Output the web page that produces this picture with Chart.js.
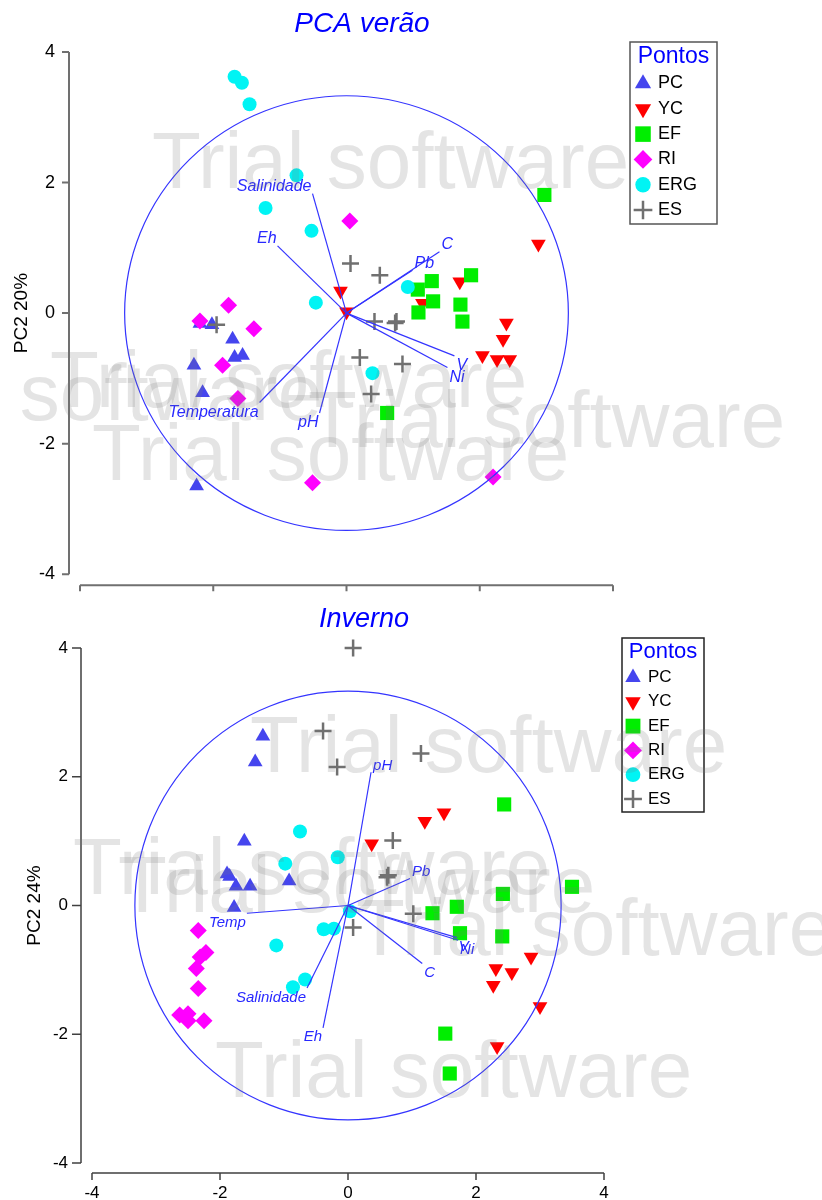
<!DOCTYPE html>
<html>
<head>
<meta charset="utf-8">
<script src="https://cdn.jsdelivr.net/npm/chart.js@4.4.0/dist/chart.umd.min.js"></script>
<style>
html, body { margin: 0; padding: 0; background: #ffffff; }
#wrap { position: relative; width: 822px; height: 1200px; overflow: hidden; background: #ffffff; }
#c1 { position: absolute; left: 0; top: 0; }
#c2 { position: absolute; left: 0; top: 600px; }
</style>
</head>
<body>
<div id="wrap">
  <canvas id="c1" width="822" height="610"></canvas>
  <canvas id="c2" width="822" height="600"></canvas>
</div>
<script>
// ---------------- DATA ----------------
const GROUPS = ['PC', 'YC', 'EF', 'RI', 'ERG', 'ES'];
const AXIS_TICKS = [-4, -2, 0, 2, 4];
const CIRCLE_RADIUS = 3.33;

const VERAO_TITLE = 'PCA verão';
const VERAO_YLABEL = 'PC2 20%';
const VERAO_PC  = [[-2.20,-0.16],[-2.02,-0.18],[-1.71,-0.40],[-1.68,-0.68],[-1.56,-0.65],[-2.29,-0.80],[-2.16,-1.22],[-2.25,-2.65]];
const VERAO_YC  = [[2.88,1.06],[1.70,0.48],[-0.09,0.34],[0.00,0.02],[1.14,0.15],[2.40,-0.15],[2.35,-0.40],[2.04,-0.65],[2.26,-0.71],[2.45,-0.71]];
const VERAO_EF  = [[2.97,1.81],[1.87,0.58],[1.28,0.49],[1.07,0.36],[1.71,0.13],[1.74,-0.13],[1.30,0.18],[1.08,0.01],[0.61,-1.53]];
const VERAO_RI  = [[0.05,1.41],[-1.77,0.12],[-2.20,-0.12],[-1.39,-0.24],[-1.86,-0.80],[-1.63,-1.31],[-0.51,-2.60],[2.20,-2.51]];
const VERAO_ERG = [[-1.68,3.62],[-1.57,3.53],[-1.455,3.20],[-0.75,2.11],[-1.215,1.61],[-0.525,1.26],[-0.46,0.16],[0.92,0.40],[0.39,-0.92]];
const VERAO_ES  = [[0.06,0.76],[0.50,0.58],[-1.95,-0.18],[0.42,-0.13],[0.75,-0.13],[0.73,-0.15],[0.20,-0.68],[0.84,-0.78],[0.37,-1.24]];
const VERAO_VARS    = ['Salinidade', 'Eh', 'C', 'Pb', 'V', 'Ni', 'Temperatura', 'pH'];
const VERAO_VAR_PC1 = [-0.51, -1.035, 1.395, 0.99, 1.62, 1.515, -1.305, -0.405];
const VERAO_VAR_PC2 = [1.83, 1.03, 0.94, 0.655, -0.655, -0.833, -1.37, -1.53];

const INVERNO_TITLE = 'Inverno';
const INVERNO_YLABEL = 'PC2 24%';
const INVERNO_PC  = [[-1.33,2.63],[-1.45,2.23],[-1.62,1.00],[-1.89,0.49],[-1.85,0.45],[-1.75,0.30],[-1.53,0.30],[-0.92,0.38],[-1.78,-0.03]];
const INVERNO_YC  = [[0.37,0.96],[1.20,1.31],[1.50,1.44],[2.86,-0.80],[2.31,-0.98],[2.56,-1.04],[2.27,-1.24],[3.00,-1.57],[2.33,-2.19]];
const INVERNO_EF  = [[2.44,1.57],[3.50,0.29],[2.42,0.18],[1.70,-0.02],[1.32,-0.12],[1.75,-0.43],[2.41,-0.48],[1.52,-1.99],[1.59,-2.61]];
const INVERNO_RI  = [[-2.34,-0.39],[-2.22,-0.73],[-2.31,-0.80],[-2.37,-0.98],[-2.34,-1.29],[-2.63,-1.70],[-2.50,-1.68],[-2.50,-1.79],[-2.25,-1.79]];
const INVERNO_ERG = [[-0.75,1.15],[-0.98,0.65],[-0.16,0.75],[0.03,-0.09],[-0.38,-0.37],[-0.22,-0.36],[-1.12,-0.62],[-0.86,-1.27],[-0.67,-1.15]];
const INVERNO_ES  = [[0.08,4.00],[-0.39,2.71],[-0.17,2.15],[1.14,2.36],[0.70,1.01],[0.63,0.47],[0.61,0.44],[1.02,-0.13],[0.08,-0.34]];
const INVERNO_VARS    = ['pH', 'Pb', 'Temp', 'V', 'Ni', 'C', 'Salinidade', 'Eh'];
const INVERNO_VAR_PC1 = [0.36, 0.97, -1.58, 1.70, 1.72, 1.16, -0.64, -0.39];
const INVERNO_VAR_PC2 = [2.07, 0.42, -0.12, -0.50, -0.54, -0.90, -1.28, -1.90];

const WATERMARK_TEXT = 'Trial software';

// ---------------- STYLE ----------------
const FONT = "'Liberation Sans', Arial, sans-serif";
const VECTOR_COLOR = 'rgb(52,52,255)';
const LABEL_COLOR = 'rgb(40,40,255)';
const MARKERS = {
  PC:  { color: '#4545ee', pointStyle: 'triangle', rotation: 0,   radius: 8.5, borderWidth: 0 },
  YC:  { color: '#ff0000', pointStyle: 'triangle', rotation: 180, radius: 8.5, borderWidth: 0 },
  EF:  { color: '#00ee00', pointStyle: 'rect',     rotation: 0,   radius: 10,  borderWidth: 0 },
  RI:  { color: '#ff00ff', pointStyle: 'rectRot',  rotation: 0,   radius: 8.5, borderWidth: 0 },
  ERG: { color: '#00f4f4', pointStyle: 'circle',   rotation: 0,   radius: 7,   borderWidth: 0 },
  ES:  { color: '#707070', pointStyle: 'cross',    rotation: 0,   radius: 8.5, borderWidth: 2.5 }
};

function buildDatasets(groupPoints, varX, varY) {
  const ds = GROUPS.map((g, gi) => {
    const st = MARKERS[g];
    return {
      label: g,
      data: groupPoints[gi].map(p => ({ x: p[0], y: p[1] })),
      showLine: false,
      clip: false,
      pointStyle: st.pointStyle,
      pointRotation: st.rotation,
      pointRadius: st.radius,
      pointBackgroundColor: st.color,
      pointBorderColor: st.color,
      pointBorderWidth: st.borderWidth,
      order: GROUPS.length - gi + 1
    };
  });
  varX.forEach((vx, i) => {
    ds.push({
      label: 'var' + i,
      data: [{ x: 0, y: 0 }, { x: vx, y: varY[i] }],
      showLine: true,
      borderColor: VECTOR_COLOR,
      borderWidth: 1.2,
      pointRadius: 0,
      fill: false,
      order: 0
    });
  });
  return ds;
}

function drawMarker(ctx, g, x, y, r) {
  const st = MARKERS[g];
  ctx.save();
  ctx.fillStyle = st.color;
  ctx.strokeStyle = st.color;
  ctx.lineWidth = st.borderWidth;
  if (Chart.helpers && Chart.helpers.drawPoint) {
    Chart.helpers.drawPoint(ctx, { pointStyle: st.pointStyle, rotation: st.rotation, radius: r, borderWidth: st.borderWidth }, x, y);
  } else {
    ctx.beginPath(); ctx.arc(x, y, r * 0.8, 0, Math.PI * 2); ctx.fill();
  }
  ctx.restore();
}

function decorPlugin(cfg) {
  return {
    id: 'decor',
    afterDatasetsDraw(chart) {
      const ctx = chart.ctx, xs = chart.scales.x, ys = chart.scales.y;
      const cx = xs.getPixelForValue(0), cy = ys.getPixelForValue(0);
      const rx = xs.getPixelForValue(CIRCLE_RADIUS) - cx;
      const ry = cy - ys.getPixelForValue(CIRCLE_RADIUS);
      ctx.save();
      ctx.strokeStyle = VECTOR_COLOR;
      ctx.lineWidth = 1.2;
      ctx.beginPath();
      ctx.ellipse(cx, cy, rx, ry, 0, 0, Math.PI * 2);
      ctx.stroke();
      ctx.font = 'italic ' + cfg.varFont + 'px ' + FONT;
      ctx.fillStyle = LABEL_COLOR;
      cfg.varNames.forEach((n, i) => {
        const vx = cfg.varX[i], vy = cfg.varY[i];
        const px = xs.getPixelForValue(vx), py = ys.getPixelForValue(vy);
        ctx.textAlign = vx < 0 ? 'right' : 'left';
        ctx.textBaseline = vy > 0 ? 'bottom' : 'top';
        ctx.fillText(n, px + (vx < 0 ? -1 : 2), py + (vy > 0 ? 1 : 2));
      });
      ctx.restore();
    },
    afterDraw(chart) {
      const ctx = chart.ctx, xs = chart.scales.x, ys = chart.scales.y, ca = chart.chartArea;
      const ax = cfg.axis;
      ctx.save();
      // detached axes
      ctx.strokeStyle = ax.color;
      ctx.lineWidth = ax.width;
      ctx.beginPath();
      const yl = ca.left - ax.gapY;
      ctx.moveTo(yl, ys.getPixelForValue(ys.max));
      ctx.lineTo(yl, ys.getPixelForValue(ys.min));
      AXIS_TICKS.forEach(t => { const p = ys.getPixelForValue(t); ctx.moveTo(yl - ax.tickY, p); ctx.lineTo(yl, p); });
      const xb = ca.bottom + ax.gapX;
      ctx.moveTo(xs.getPixelForValue(xs.min), xb);
      ctx.lineTo(xs.getPixelForValue(xs.max), xb);
      AXIS_TICKS.forEach(t => { const p = xs.getPixelForValue(t); ctx.moveTo(p, xb); ctx.lineTo(p, xb + ax.tickX); });
      ctx.stroke();
      // title
      ctx.font = 'italic ' + cfg.titleSize + 'px ' + FONT;
      ctx.fillStyle = '#0000ff';
      ctx.textAlign = 'center';
      ctx.textBaseline = 'alphabetic';
      ctx.fillText(cfg.title, cfg.titleX, cfg.titleY);
      // legend
      const L = cfg.legend;
      ctx.strokeStyle = L.border;
      ctx.lineWidth = 1.5;
      ctx.strokeRect(L.x, L.y, L.w, L.h);
      ctx.font = L.titleSize + 'px ' + FONT;
      ctx.fillStyle = '#0000ff';
      ctx.textAlign = 'center';
      ctx.fillText('Pontos', L.x + L.w / 2, L.titleBase);
      ctx.font = L.itemSize + 'px ' + FONT;
      ctx.textAlign = 'left';
      ctx.textBaseline = 'middle';
      GROUPS.forEach((g, i) => {
        const yy = L.firstY + i * L.step;
        drawMarker(ctx, g, L.markerX, yy, MARKERS[g].radius * L.markerScale);
        ctx.fillStyle = '#000000';
        ctx.fillText(g, L.textX, yy);
      });
      // trial watermark
      ctx.font = '80px ' + FONT;
      ctx.fillStyle = 'rgba(120,120,120,0.2)';
      ctx.textAlign = 'left';
      ctx.textBaseline = 'alphabetic';
      cfg.watermarks.forEach(w => ctx.fillText(WATERMARK_TEXT, w[0], w[1]));
      ctx.restore();
    }
  };
}

function makeChart(canvasId, groupPoints, varNames, varX, varY, yLabel, cfg) {
  const tickFont = { size: cfg.tickSize, family: FONT };
  return new Chart(document.getElementById(canvasId), {
    type: 'scatter',
    data: { datasets: buildDatasets(groupPoints, varX, varY) },
    options: {
      responsive: false,
      animation: false,
      events: [],
      layout: { padding: cfg.padding },
      plugins: { legend: { display: false }, tooltip: { enabled: false }, title: { display: false } },
      scales: {
        x: {
          type: 'linear',
          min: AXIS_TICKS[0], max: AXIS_TICKS[AXIS_TICKS.length - 1],
          grid: { display: false, drawTicks: false },
          border: { display: false },
          ticks: { display: cfg.showXTicks, stepSize: 2, font: tickFont, color: '#000000', padding: cfg.xTickPad },
          afterFit: s => { s.height = cfg.xHeight; }
        },
        y: {
          type: 'linear',
          min: AXIS_TICKS[0], max: AXIS_TICKS[AXIS_TICKS.length - 1],
          grid: { display: false, drawTicks: false },
          border: { display: false },
          ticks: { stepSize: 2, font: tickFont, color: '#000000', padding: cfg.yTickPad },
          title: { display: true, text: yLabel, color: '#000000', font: { size: 19, family: FONT }, padding: { top: cfg.yTitlePad, bottom: 0 } },
          afterFit: s => { s.width = cfg.yWidth; }
        }
      }
    },
    plugins: [decorPlugin(Object.assign({ varNames, varX, varY }, cfg))]
  });
}

makeChart('c1',
  [VERAO_PC, VERAO_YC, VERAO_EF, VERAO_RI, VERAO_ERG, VERAO_ES],
  VERAO_VARS, VERAO_VAR_PC1, VERAO_VAR_PC2, VERAO_YLABEL,
  {
    title: VERAO_TITLE, titleSize: 28, titleX: 362, titleY: 32,
    padding: { top: 52, right: 209, left: 0, bottom: 0 },
    yWidth: 80, xHeight: 20, showXTicks: false, tickSize: 18, yTickPad: 25, xTickPad: 20, yTitlePad: 10,
    varFont: 16,
    axis: { color: '#707070', width: 2, gapY: 11, gapX: 11, tickY: 7, tickX: 6 },
    legend: { x: 630, y: 42, w: 87, h: 182, border: '#555555', titleSize: 23, titleBase: 63,
              itemSize: 18, firstY: 83.5, step: 25.3, markerX: 643, textX: 658, markerScale: 1.1 },
    watermarks: [[152, 188], [50, 407], [-155, 420], [308, 447], [92, 480]]
  });

makeChart('c2',
  [INVERNO_PC, INVERNO_YC, INVERNO_EF, INVERNO_RI, INVERNO_ERG, INVERNO_ES],
  INVERNO_VARS, INVERNO_VAR_PC1, INVERNO_VAR_PC2, INVERNO_YLABEL,
  {
    title: INVERNO_TITLE, titleSize: 27, titleX: 364, titleY: 27,
    padding: { top: 48, right: 218, left: 0, bottom: 0 },
    yWidth: 92, xHeight: 37, showXTicks: true, tickSize: 17, yTickPad: 24, xTickPad: 20, yTitlePad: 23,
    varFont: 15,
    axis: { color: '#404040', width: 1.5, gapY: 11, gapX: 10, tickY: 9, tickX: 7 },
    legend: { x: 622, y: 38, w: 82, h: 174, border: '#222222', titleSize: 22, titleBase: 58,
              itemSize: 17, firstY: 77.5, step: 24.3, markerX: 633, textX: 648, markerScale: 1.05 },
    watermarks: [[250, 172], [73, 294], [118, 312], [356, 355], [215, 497]]
  });
</script>
</body>
</html>
